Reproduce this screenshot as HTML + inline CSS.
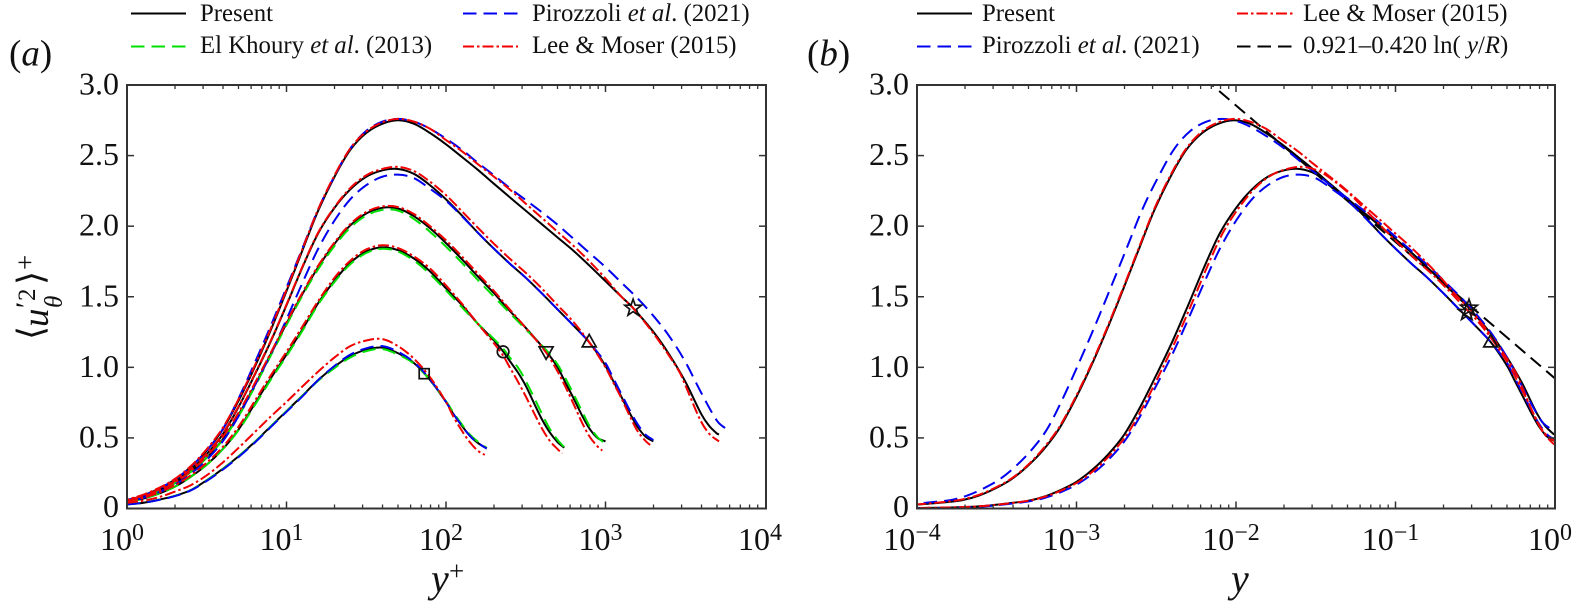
<!DOCTYPE html>
<html lang="en">
<head>
<meta charset="utf-8">
<title>Azimuthal velocity variance profiles</title>
<style>
html,body{margin:0;padding:0;background:#fff;}
body{width:1573px;height:605px;overflow:hidden;}
svg{display:block;}
text{font-family:"Liberation Serif","DejaVu Serif",serif;fill:#111;}
.i{font-style:italic;}
</style>
</head>
<body>
<svg id="chart" xmlns="http://www.w3.org/2000/svg" width="1573" height="605" viewBox="0 0 1573 605">
<defs>
<clipPath id="clip-a"><rect x="127" y="85" width="639" height="424"/></clipPath>
<clipPath id="clip-b"><rect x="917" y="85" width="638" height="424"/></clipPath>
</defs>
<g id="panel-a"></g>
<g id="panel-b"></g>

<text x="9" y="65.5" font-size="37">(<tspan class="i">a</tspan>)</text>
<text x="807" y="65.5" font-size="37">(<tspan class="i">b</tspan>)</text>

<g font-size="24.8">
  <g>
    <line x1="131" x2="186" y1="13.5" y2="13.5" stroke="#000" stroke-width="2"/>
    <text x="200" y="21">Present</text>
  </g>
  <g>
    <line x1="131" x2="186" y1="46.5" y2="46.5" stroke="#00e000" stroke-width="2" stroke-dasharray="13.5 7"/>
    <text x="200" y="53">El Khoury <tspan class="i">et al</tspan>. (2013)</text>
  </g>
  <g>
    <line x1="463" x2="518" y1="13.5" y2="13.5" stroke="#0000f0" stroke-width="2" stroke-dasharray="13.5 7"/>
    <text x="532" y="21">Pirozzoli <tspan class="i">et al</tspan>. (2021)</text>
  </g>
  <g>
    <line x1="463" x2="518" y1="46.5" y2="46.5" stroke="#f00000" stroke-width="2" stroke-dasharray="11 3 2.5 3"/>
    <text x="532" y="53">Lee &amp; Moser (2015)</text>
  </g>
</g>
<g font-size="24.8">
  <g>
    <line x1="917" x2="972" y1="13.5" y2="13.5" stroke="#000" stroke-width="2"/>
    <text x="982" y="21">Present</text>
  </g>
  <g>
    <line x1="917" x2="972" y1="46.5" y2="46.5" stroke="#0000f0" stroke-width="2" stroke-dasharray="13.5 7"/>
    <text x="982" y="53">Pirozzoli <tspan class="i">et al</tspan>. (2021)</text>
  </g>
  <g>
    <line x1="1237" x2="1293" y1="13.5" y2="13.5" stroke="#f00000" stroke-width="2" stroke-dasharray="11 3 2.5 3"/>
    <text x="1303" y="21">Lee &amp; Moser (2015)</text>
  </g>
  <g>
    <line x1="1237" x2="1293" y1="46.5" y2="46.5" stroke="#000" stroke-width="2" stroke-dasharray="13.5 7"/>
    <text x="1303" y="53">0.921–0.420 ln( <tspan class="i">y</tspan>/<tspan class="i">R</tspan>)</text>
  </g>
</g>

<g transform="translate(48,337) rotate(-90)">
  <text x="-3" y="-5" font-size="36" style="font-family:'DejaVu Sans',sans-serif">⟨</text>
  <text x="10" y="0" font-size="37" class="i">u</text>
  <text x="27" y="-12" font-size="30" class="i">′</text>
  <text x="36" y="-13" font-size="25">2</text>
  <text x="29" y="14" font-size="25" class="i">θ</text>
  <text x="52" y="-5" font-size="36" style="font-family:'DejaVu Sans',sans-serif">⟩</text>
  <text x="67" y="-14" font-size="27">+</text>
</g>
<g>
  <text x="431" y="592" font-size="40" class="i">y</text>
  <text x="449" y="580" font-size="27">+</text>
</g>
<text x="1231" y="592" font-size="40" class="i">y</text>

<script>
// ---------- tick data ----------
var yTicks = [0, 0.5, 1.0, 1.5, 2.0, 2.5, 3.0];
var yTickLabels = ['0', '0.5', '1.0', '1.5', '2.0', '2.5', '3.0'];
var xDecadesA = [0, 1, 2, 3, 4];
var xDecadesB = [-4, -3, -2, -1, 0];
var minorFactors = [2, 3, 4, 5, 6, 7, 8, 9];

// ---------- sampled y+ stations ----------
var innerYPlus = [1, 1.26, 1.58, 2, 2.51, 3.16, 3.98, 5.01, 6.31, 7.94, 10, 12.6, 15.8, 20, 25.1, 31.6, 39.8, 50.1, 63.1, 79.4, 100];
var subYPlus2000 = [.2, .32, .5, .79];
var subYPlus5200 = [.5, .63, .79];

// ---------- Re 180 ----------
var tail180 = [112, 126, 141, 158, 180];
var tailLee180 = [112, 126, 141, 158, 175];
var present180 = [.03, .04, .062, .09, .13, .2, .28, .37, .47, .58, .69, .8, .91, 1.005, 1.08, 1.125, 1.14, 1.1, 1.03, .91, .755, .665, .585, .515, .465, .425];
var khoury180 = [.03, .04, .062, .09, .13, .2, .28, .37, .47, .58, .69, .8, .905, .995, 1.07, 1.115, 1.13, 1.09, 1.025, .91, .76, .675, .595, .525, .475, .43];
var pirozzoli180 = [.028, .04, .06, .088, .128, .195, .275, .365, .465, .575, .685, .795, .91, 1.01, 1.09, 1.135, 1.15, 1.11, 1.035, .915, .755, .665, .585, .515, .465, .425];
var lee180 = [.04, .055, .08, .12, .165, .235, .325, .43, .54, .65, .755, .865, .97, 1.07, 1.15, 1.19, 1.2, 1.15, 1.06, .93, .755, .645, .55, .47, .41, .38];

// ---------- Re 550 ----------
var tail550 = [126, 158, 200, 229, 251, 282, 316, 355, 398, 447, 501, 551];
var tailLee550 = [126, 158, 200, 229, 251, 282, 316, 355, 398, 447, 501, 535];
var present550 = [.045, .07, .105, .155, .225, .31, .42, .56, .74, .92, 1.09, 1.27, 1.455, 1.615, 1.74, 1.82, 1.85, 1.83, 1.77, 1.68, 1.56, 1.44, 1.31, 1.19, 1.11, 1.045, .965, .87, .75, .635, .54, .47, .43];
var khoury550 = [.045, .07, .105, .155, .225, .31, .42, .555, .73, .91, 1.08, 1.26, 1.445, 1.605, 1.73, 1.81, 1.84, 1.82, 1.755, 1.66, 1.545, 1.425, 1.31, 1.2, 1.13, 1.07, 1.0, .905, .79, .675, .565, .485, .435];
var lee550 = [.05, .075, .112, .165, .235, .325, .435, .58, .76, .94, 1.11, 1.29, 1.47, 1.635, 1.755, 1.835, 1.865, 1.845, 1.785, 1.7, 1.58, 1.45, 1.31, 1.17, 1.08, 1.0, .9, .795, .68, .57, .48, .42, .39];

// ---------- Re 1000 ----------
var tail1000 = [126, 158, 200, 251, 316, 427, 501, 562, 631, 708, 794, 891, 1000];
var tailLee1000 = [126, 158, 200, 251, 316, 427, 501, 562, 631, 708, 794, 891, 955];
var present1000 = [.05, .08, .12, .18, .26, .36, .49, .665, .87, 1.09, 1.31, 1.52, 1.71, 1.875, 2.005, 2.09, 2.13, 2.125, 2.07, 1.985, 1.88, 1.765, 1.645, 1.525, 1.4, 1.28, 1.11, 1.0, .89, .78, .665, .565, .5, .475];
var khoury1000 = [.05, .08, .12, .18, .26, .36, .485, .655, .86, 1.08, 1.3, 1.51, 1.695, 1.86, 1.99, 2.075, 2.115, 2.11, 2.05, 1.96, 1.855, 1.74, 1.62, 1.5, 1.385, 1.27, 1.12, 1.02, .92, .81, .695, .585, .505, .46];
var lee1000 = [.055, .085, .125, .185, .265, .37, .505, .68, .885, 1.1, 1.32, 1.53, 1.72, 1.885, 2.015, 2.1, 2.14, 2.135, 2.085, 2.0, 1.9, 1.785, 1.665, 1.54, 1.41, 1.28, 1.1, .97, .86, .74, .615, .51, .44, .41];

// ---------- Re 2000 ----------
var tail2000 = [126, 158, 200, 251, 316, 398, 501, 631, 794, 1000, 1122, 1259, 1413, 1585, 1778, 1995];
var tailLee2000 = [126, 158, 200, 251, 316, 398, 501, 631, 794, 1000, 1122, 1259, 1413, 1585, 1778, 1905];
var present2000 = [.003, .007, .016, .04, .055, .085, .13, .19, .275, .385, .525, .72, .945, 1.18, 1.44, 1.71, 1.95, 2.13, 2.26, 2.35, 2.395, 2.405, 2.37, 2.29, 2.19, 2.075, 1.955, 1.84, 1.735, 1.635, 1.525, 1.41, 1.295, 1.175, 1.01, .9, .79, .68, .58, .51, .475];
var pirozzoli2000 = [.002, .005, .013, .035, .05, .075, .115, .17, .245, .345, .475, .655, .87, 1.09, 1.34, 1.6, 1.84, 2.04, 2.19, 2.29, 2.35, 2.365, 2.34, 2.265, 2.18, 2.07, 1.955, 1.84, 1.735, 1.635, 1.525, 1.41, 1.295, 1.175, 1.03, .92, .81, .7, .6, .525, .485];
var lee2000 = [.004, .008, .018, .042, .06, .09, .135, .195, .28, .39, .53, .725, .95, 1.185, 1.445, 1.715, 1.955, 2.135, 2.27, 2.36, 2.405, 2.42, 2.39, 2.315, 2.22, 2.105, 1.99, 1.875, 1.77, 1.67, 1.56, 1.44, 1.32, 1.175, 1.0, .89, .78, .66, .55, .48, .45];

// ---------- Re 5200 / 6000 ----------
var tail5200 = [126, 158, 200, 251, 316, 398, 501, 631, 794, 1000, 1259, 1490, 2000, 2512, 3162, 3981, 4467, 5012, 5150];
var tailLee5200 = [126, 158, 200, 251, 316, 398, 501, 631, 794, 1000, 1259, 1490, 2000, 2512, 2931, 3162, 3917, 4467, 5150];
var tail6000 = [126, 158, 200, 251, 316, 398, 501, 631, 794, 1000, 1259, 1585, 1995, 2512, 3162, 3981, 5012, 5623, 6100];
var present5200 = [.026, .035, .045, .06, .092, .14, .205, .295, .41, .56, .765, 1.0, 1.26, 1.54, 1.83, 2.11, 2.35, 2.54, 2.66, 2.725, 2.75, 2.725, 2.66, 2.58, 2.49, 2.4, 2.3, 2.205, 2.11, 2.015, 1.92, 1.825, 1.72, 1.61, 1.5, 1.42, 1.25, 1.09, .9, .67, .585, .53, .525];
var lee5200 = [.028, .037, .048, .065, .097, .145, .21, .3, .42, .57, .775, 1.01, 1.27, 1.55, 1.84, 2.12, 2.36, 2.55, 2.67, 2.735, 2.76, 2.74, 2.69, 2.61, 2.53, 2.44, 2.35, 2.26, 2.16, 2.06, 1.96, 1.86, 1.75, 1.63, 1.5, 1.42, 1.24, 1.08, .96, .875, .63, .53, .475];
var pirozzoli6000 = [.027, .036, .047, .06, .092, .14, .205, .295, .41, .56, .78, 1.03, 1.29, 1.565, 1.845, 2.12, 2.355, 2.55, 2.675, 2.74, 2.76, 2.74, 2.69, 2.62, 2.54, 2.45, 2.36, 2.27, 2.185, 2.1, 2.01, 1.91, 1.81, 1.71, 1.6, 1.49, 1.365, 1.22, 1.04, .82, .62, .57, .546];

// ---------- symbols on panel (a) and (b) ----------
var markerSymbols = ['square', 'circle', 'down', 'up', 'star'];
var markerYPlus = [73, 228, 424, 790, 1490];
var markerValues = [.955, 1.11, 1.11, 1.18, 1.42];
var markerBY = [.395, .289, .28];
var markerBValues = [1.18, 1.42, 1.39];
var markerBSymbols = ['up', 'star', 'star'];

// ---------- log-law reference line ----------
var logLawIntercept = 0.921;
var logLawSlope = 0.420;
var logLawY = [0.005, 1];

// ---------- scales ----------
var SVGNS = 'http://www.w3.org/2000/svg';
var yTop = 85, yBottom = 508.5;
function yScale(v) { return yBottom - v / 3 * (yBottom - yTop); }
var decade = 159.5;
function xA(v) { return 127 + Math.log10(v) * decade; }
function xB(v) { return 1555 + Math.log10(v) * decade; }

var BLACK = '#000', GREEN = '#00e000', BLUE = '#0000f0', RED = '#f00000';
var DASH = '13.5 7', DASHDOT = '11 3 2.5 3';

function mk(tag, attrs, parent) {
  var el = document.createElementNS(SVGNS, tag);
  for (var k in attrs) el.setAttribute(k, attrs[k]);
  parent.appendChild(el);
  return el;
}

// smooth cubic path through the data points
function smoothPath(pts) {
  var n = pts.length, m = [], i;
  m[0] = (pts[1][1] - pts[0][1]) / (pts[1][0] - pts[0][0]);
  m[n - 1] = (pts[n - 1][1] - pts[n - 2][1]) / (pts[n - 1][0] - pts[n - 2][0]);
  for (i = 1; i < n - 1; i++) m[i] = (pts[i + 1][1] - pts[i - 1][1]) / (pts[i + 1][0] - pts[i - 1][0]);
  var d = 'M' + pts[0][0].toFixed(2) + ' ' + pts[0][1].toFixed(2);
  for (i = 0; i < n - 1; i++) {
    var h = (pts[i + 1][0] - pts[i][0]) / 3;
    d += 'C' + (pts[i][0] + h).toFixed(2) + ' ' + (pts[i][1] + m[i] * h).toFixed(2) + ' ' +
      (pts[i + 1][0] - h).toFixed(2) + ' ' + (pts[i + 1][1] - m[i + 1] * h).toFixed(2) + ' ' +
      pts[i + 1][0].toFixed(2) + ' ' + pts[i + 1][1].toFixed(2);
  }
  return d;
}

function drawCurve(parent, name, xs, ys, xFn, scale, color, dash, width) {
  var pts = xs.map(function (x, i) { return [xFn(x / scale), yScale(ys[i])]; });
  var attrs = { d: smoothPath(pts), fill: 'none', stroke: color, 'stroke-width': width, 'stroke-linejoin': 'round' };
  if (dash) attrs['stroke-dasharray'] = dash;
  var p = mk('path', attrs, parent);
  
  
}

function drawMarker(parent, kind, cx, cy) {
  var g;
  var st = { fill: 'none', stroke: '#111', 'stroke-width': 1.7 };
  if (kind === 'square') {
    g = mk('rect', Object.assign({ x: cx - 5, y: cy - 5, width: 10, height: 10 }, st), parent);
  } else if (kind === 'circle') {
    g = mk('circle', Object.assign({ cx: cx, cy: cy, r: 5.8 }, st), parent);
  } else {
    var pts = [];
    if (kind === 'up') pts = [[cx, cy - 7.5], [cx + 7, cy + 5], [cx - 7, cy + 5]];
    if (kind === 'down') pts = [[cx, cy + 7.5], [cx + 7, cy - 5], [cx - 7, cy - 5]];
    if (kind === 'star') {
      for (var i = 0; i < 10; i++) {
        var r = i % 2 ? 3.6 : 8.8, a = -Math.PI / 2 + i * Math.PI / 5;
        pts.push([cx + r * Math.cos(a), cy + r * Math.sin(a)]);
      }
    }
    g = mk('polygon', Object.assign({ points: pts.map(function (p) { return p[0].toFixed(1) + ',' + p[1].toFixed(1); }).join(' ') }, st), parent);
  }
  
  
}

function drawAxes(parent, prefix, xFn, decades, left, right) {
  var axColor = '#333';
  var frame = mk('rect', { x: left, y: yTop, width: right - left, height: yBottom - yTop, fill: 'none', stroke: axColor, 'stroke-width': 2 }, parent);
  
  

  yTicks.forEach(function (v, i) {
    var y = yScale(v);
    if (v > 0 && v < 3) {
      var l = mk('line', { x1: left, x2: left + 7, y1: y, y2: y, stroke: axColor, 'stroke-width': 1.5 }, parent);
      
      
      var r = mk('line', { x1: right - 7, x2: right, y1: y, y2: y, stroke: axColor, 'stroke-width': 1.5 }, parent);
      
      
    }
    var t = mk('text', { x: left - 8, y: y + (v === 0 ? 8.5 : 9.5), 'font-size': 32, 'text-anchor': 'end' }, parent);
    t.textContent = yTickLabels[i];
    
    
  });

  decades.forEach(function (d, idx) {
    var v = Math.pow(10, d), x = xFn(v);
    if (idx > 0 && idx < decades.length - 1) {
      [[yBottom, yBottom - 7], [yTop, yTop + 7]].forEach(function (s) {
        var l = mk('line', { x1: x, x2: x, y1: s[0], y2: s[1], stroke: axColor, 'stroke-width': 1.5 }, parent);
        
        
      });
    }
    if (idx < decades.length - 1) {
      minorFactors.forEach(function (f) {
        var xm = xFn(v * f);
        [[yBottom, yBottom - 4], [yTop, yTop + 4]].forEach(function (s) {
          var l = mk('line', { x1: xm, x2: xm, y1: s[0], y2: s[1], stroke: axColor, 'stroke-width': 1.3 }, parent);
          
          
        });
      });
    }
    var t = mk('text', { x: x - 5, y: 550, 'font-size': 32, 'text-anchor': 'middle' }, parent);
    t.textContent = '10';
    var sup = mk('tspan', { dy: -10, 'font-size': 24 }, t);
    sup.textContent = d < 0 ? '\u2212' + (-d) : String(d);
    
    
  });
}

var x180 = innerYPlus.concat(tail180);
var x180Lee = innerYPlus.concat(tailLee180);
var x550 = innerYPlus.concat(tail550);
var x550Lee = innerYPlus.concat(tailLee550);
var x1000 = innerYPlus.concat(tail1000);
var x1000Lee = innerYPlus.concat(tailLee1000);
var x2000 = subYPlus2000.concat(innerYPlus, tail2000);
var x2000Lee = subYPlus2000.concat(innerYPlus, tailLee2000);
var x5200 = subYPlus5200.concat(innerYPlus, tail5200);
var x5200Lee = subYPlus5200.concat(innerYPlus, tailLee5200);
var x6000 = subYPlus5200.concat(innerYPlus, tail6000);

// ---------- panel (a) ----------
var panelA = document.getElementById('panel-a');
var curvesA = mk('g', { 'clip-path': 'url(#clip-a)' }, panelA);


var LW = 2;
drawCurve(curvesA, 'present-re180', x180, present180, xA, 1, BLACK, null, LW);
drawCurve(curvesA, 'present-re550', x550, present550, xA, 1, BLACK, null, LW);
drawCurve(curvesA, 'present-re1000', x1000, present1000, xA, 1, BLACK, null, LW);
drawCurve(curvesA, 'present-re2000', x2000, present2000, xA, 1, BLACK, null, LW);
drawCurve(curvesA, 'present-re5200', x5200, present5200, xA, 1, BLACK, null, LW);
drawCurve(curvesA, 'el-khoury-re180', x180, khoury180, xA, 1, GREEN, DASH, LW);
drawCurve(curvesA, 'el-khoury-re550', x550, khoury550, xA, 1, GREEN, DASH, LW);
drawCurve(curvesA, 'el-khoury-re1000', x1000, khoury1000, xA, 1, GREEN, DASH, LW);
drawCurve(curvesA, 'pirozzoli-re180', x180, pirozzoli180, xA, 1, BLUE, DASH, LW);
drawCurve(curvesA, 'pirozzoli-re2000', x2000, pirozzoli2000, xA, 1, BLUE, DASH, LW);
drawCurve(curvesA, 'pirozzoli-re6000', x6000, pirozzoli6000, xA, 1, BLUE, DASH, LW);
drawCurve(curvesA, 'lee-moser-re180', x180Lee, lee180, xA, 1, RED, DASHDOT, LW);
drawCurve(curvesA, 'lee-moser-re550', x550Lee, lee550, xA, 1, RED, DASHDOT, LW);
drawCurve(curvesA, 'lee-moser-re1000', x1000Lee, lee1000, xA, 1, RED, DASHDOT, LW);
drawCurve(curvesA, 'lee-moser-re2000', x2000Lee, lee2000, xA, 1, RED, DASHDOT, LW);
drawCurve(curvesA, 'lee-moser-re5200', x5200Lee, lee5200, xA, 1, RED, DASHDOT, LW);
markerSymbols.forEach(function (k, i) { drawMarker(panelA, k, xA(markerYPlus[i]), yScale(markerValues[i])); });
drawAxes(panelA, 'panel-a', xA, xDecadesA, 127, 766);

// ---------- panel (b) ----------
var panelB = document.getElementById('panel-b');
var curvesB = mk('g', { 'clip-path': 'url(#clip-b)' }, panelB);


var lawPts = logLawY.map(function (y) { return [xB(y), yScale(logLawIntercept - logLawSlope * Math.log(y))]; });
var law = mk('line', { x1: lawPts[0][0], y1: lawPts[0][1], x2: lawPts[1][0], y2: lawPts[1][1], stroke: BLACK, 'stroke-width': LW, 'stroke-dasharray': DASH }, curvesB);


drawCurve(curvesB, 'present-re2000-outer', x2000, present2000, xB, 1995, BLACK, null, LW);
drawCurve(curvesB, 'present-re5200-outer', x5200, present5200, xB, 5150, BLACK, null, LW);
drawCurve(curvesB, 'pirozzoli-re2000-outer', x2000, pirozzoli2000, xB, 1995, BLUE, DASH, LW);
drawCurve(curvesB, 'pirozzoli-re6000-outer', x6000, pirozzoli6000, xB, 6100, BLUE, DASH, LW);
drawCurve(curvesB, 'lee-moser-re2000-outer', x2000Lee, lee2000, xB, 1905, RED, DASHDOT, LW);
drawCurve(curvesB, 'lee-moser-re5200-outer', x5200Lee, lee5200, xB, 5150, RED, DASHDOT, LW);
markerBSymbols.forEach(function (k, i) { drawMarker(panelB, k, xB(markerBY[i]), yScale(markerBValues[i])); });
drawAxes(panelB, 'panel-b', xB, xDecadesB, 917, 1555);
</script>
</svg>
</body>
</html>
